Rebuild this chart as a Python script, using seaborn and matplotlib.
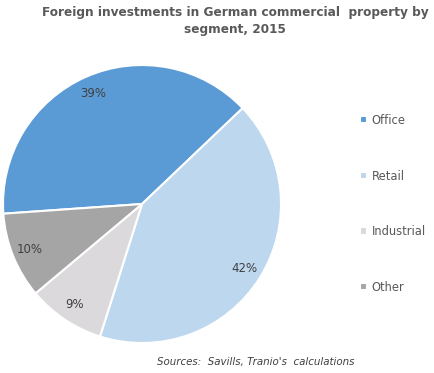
import matplotlib
matplotlib.use("Agg")
import matplotlib.pyplot as plt
import seaborn as sns

segments = ["Office", "Retail", "Industrial", "Other"]
shares = [39, 42, 9, 10]
colors = ["#5B9BD5", "#BDD7EE", "#DBD9DB", "#A5A5A5"]

sns.set_theme(style="white")
plt.rcParams["font.family"] = ["DejaVu Sans"]

fig = plt.figure(figsize=(4.34, 3.73), dpi=100)
ax = fig.add_axes([0.0069, 0.0804, 0.6406, 0.7453])

wedges, texts, autotexts = ax.pie(
    shares, colors=colors, startangle=184, counterclock=False,
    autopct="%d%%", pctdistance=0.87,
    wedgeprops=dict(edgecolor="white", linewidth=1.5),
    textprops=dict(color="#404040", fontsize=8.5),
)
ax.set_xlim(-1, 1)
ax.set_ylim(-1, 1)
ax.set_aspect("equal")

fig.text(0.542, 0.985, "Foreign investments in German commercial  property by\nsegment, 2015",
         ha="center", va="top", fontsize=8.7, fontweight="bold", color="#595959",
         linespacing=1.45)

fig.legend(wedges, segments, loc="upper left", bbox_to_anchor=(0.818, 0.707),
           frameon=False, fontsize=8.3, labelcolor="#595959",
           handlelength=0.6, handleheight=0.6, handletextpad=0.45,
           labelspacing=3.7, borderaxespad=0)

fig.text(0.362, 0.015, "Sources:  Savills, Tranio's  calculations", ha="left", va="bottom",
         fontsize=7.4, style="italic", color="#404040")

fig.savefig("out.png", dpi=100)
